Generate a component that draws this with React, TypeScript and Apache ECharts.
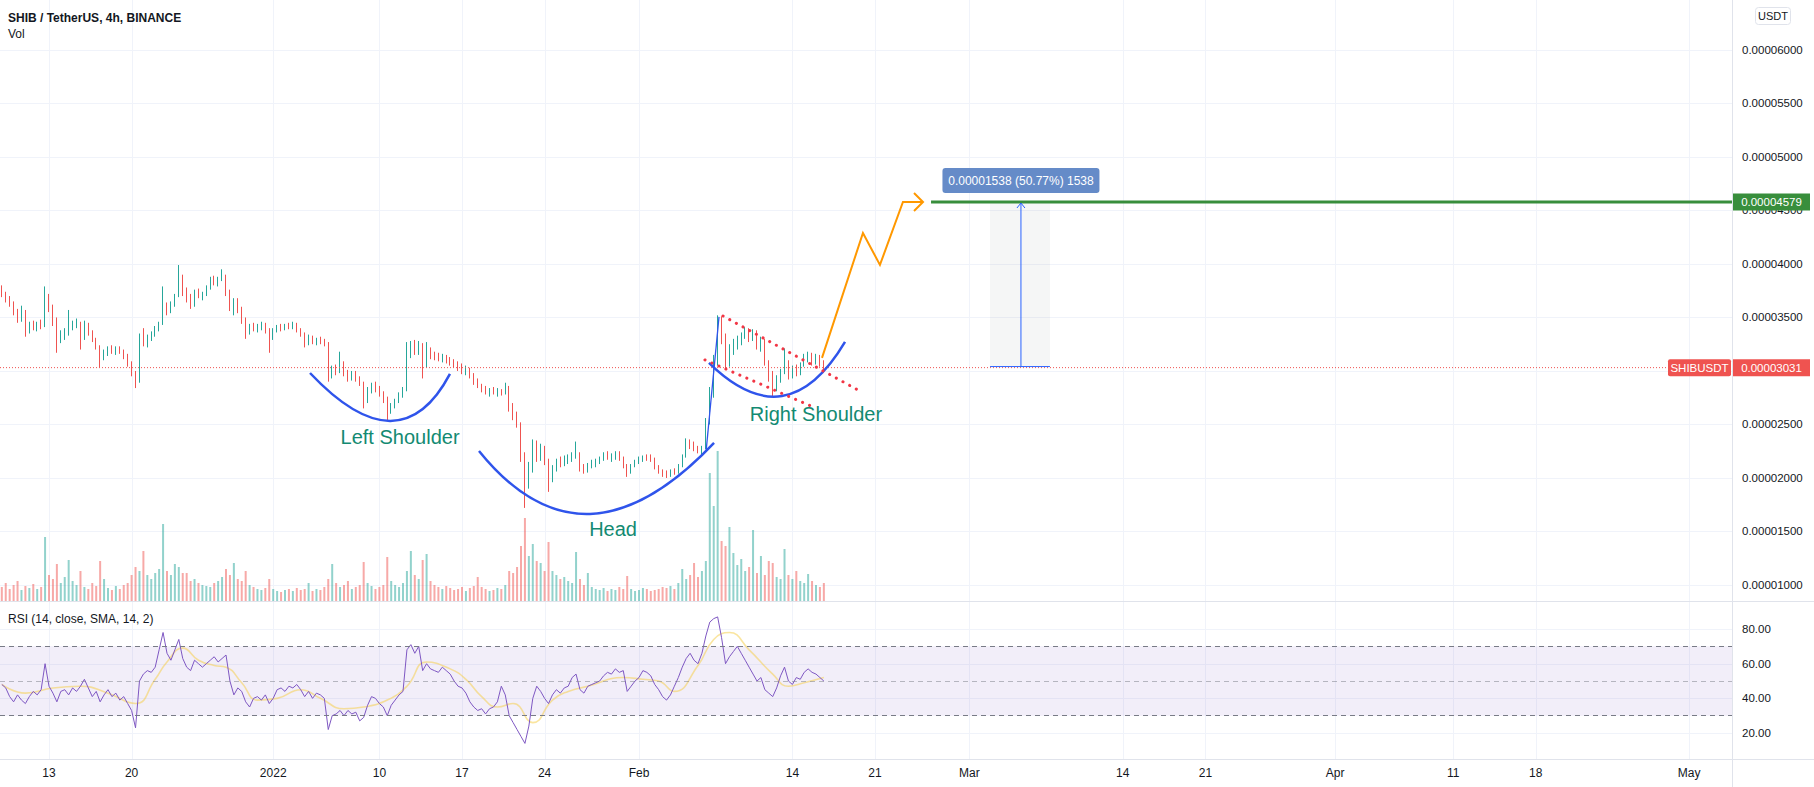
import React, { useEffect, useRef } from "react";
import * as echarts from "echarts";

// ---------------- data ----------------
// 8h candles starting on day -4 (Dec 9, 2021); day 0 = Dec 13, 2021. Prices in 1e-8 USDT.
const START_DAY = -4;
const STEP_DAYS = 1 / 3;

// [open, high, low, close]
const OHLC: number[][] = [
  [3760,3800,3690,3700],[3700,3740,3640,3660],[3660,3700,3600,3620],[3620,3650,3520,3540],[3540,3580,3450,3480],
  [3480,3610,3460,3560],[3560,3570,3320,3380],[3380,3460,3350,3430],[3430,3470,3380,3410],[3410,3460,3370,3440],
  [3440,3480,3390,3420],[3420,3790,3410,3700],[3700,3720,3550,3580],[3580,3620,3420,3460],[3460,3500,3170,3300],
  [3300,3380,3260,3340],[3340,3400,3290,3370],[3370,3570,3330,3420],[3420,3470,3380,3440],[3440,3490,3400,3450],
  [3450,3460,3200,3300],[3300,3470,3290,3430],[3430,3450,3330,3360],[3360,3380,3270,3290],[3290,3310,3200,3220],
  [3220,3240,3030,3120],[3120,3200,3100,3180],[3180,3230,3140,3210],[3210,3240,3160,3190],[3190,3230,3150,3200],
  [3200,3230,3160,3180],[3180,3200,3110,3140],[3140,3160,3040,3070],[3070,3090,2950,2970],[2970,3000,2840,2900],
  [2900,3350,2890,3280],[3280,3400,3230,3260],[3260,3340,3220,3310],[3310,3370,3280,3350],[3350,3420,3320,3400],
  [3400,3460,3370,3440],[3440,3790,3430,3600],[3600,3640,3520,3560],[3560,3650,3540,3620],[3620,3720,3600,3700],
  [3700,3990,3690,3880],[3880,3900,3700,3740],[3740,3780,3640,3680],[3680,3720,3580,3620],[3620,3760,3600,3720],
  [3720,3770,3680,3700],[3700,3740,3660,3720],[3720,3800,3700,3780],[3780,3880,3760,3850],[3850,3890,3800,3820],
  [3820,3880,3790,3860],[3860,3950,3840,3880],[3880,3900,3700,3720],[3720,3760,3560,3600],[3600,3680,3520,3640],
  [3640,3680,3540,3560],[3560,3600,3440,3470],[3470,3500,3300,3380],[3380,3440,3340,3410],[3410,3450,3370,3390],
  [3390,3440,3360,3420],[3420,3460,3380,3440],[3440,3450,3350,3370],[3370,3400,3170,3300],[3300,3400,3290,3380],
  [3380,3430,3360,3410],[3410,3440,3370,3400],[3400,3440,3380,3420],[3420,3450,3390,3410],[3410,3460,3390,3440],
  [3440,3450,3360,3380],[3380,3400,3320,3350],[3350,3360,3220,3260],[3260,3340,3240,3300],[3300,3330,3250,3280],
  [3280,3310,3240,3290],[3290,3320,3250,3270],[3270,3300,3230,3250],[3250,3270,2900,2960],[2960,3050,2930,3020],
  [3020,3060,2960,2990],[2990,3180,2980,3080],[3080,3090,2950,2970],[2970,3010,2900,2930],[2930,3000,2910,2980],
  [2980,3000,2900,2920],[2920,2950,2860,2880],[2880,2900,2650,2720],[2720,2850,2700,2820],[2820,2890,2790,2860],
  [2860,2900,2800,2840],[2840,2860,2760,2790],[2790,2810,2700,2740],[2740,2760,2540,2620],[2620,2700,2600,2680],
  [2680,2740,2650,2720],[2720,2800,2700,2770],[2770,2850,2750,2820],[2820,3270,2810,3200],[3200,3280,3120,3220],
  [3220,3290,3150,3180],[3180,3280,3150,3250],[3250,3260,2930,3050],[3050,3270,3030,3200],[3200,3220,3110,3150],
  [3150,3180,3100,3140],[3140,3170,3090,3120],[3120,3160,3080,3140],[3140,3150,3070,3100],[3100,3130,3050,3080],
  [3080,3110,3030,3060],[3060,3090,3000,3040],[3040,3070,2970,3000],[3000,3050,2960,3020],[3020,3030,2930,2960],
  [2960,2980,2870,2900],[2900,2930,2840,2860],[2860,2880,2800,2830],[2830,2860,2780,2800],[2800,2840,2760,2820],
  [2820,2850,2780,2790],[2790,2840,2760,2810],[2810,2830,2770,2790],[2790,2890,2780,2850],[2850,2860,2620,2660],
  [2660,2700,2540,2580],[2580,2620,2470,2500],[2500,2520,2150,2200],[2200,2240,1720,1950],[1950,2150,1900,2080],
  [2080,2360,2050,2300],[2300,2350,2150,2200],[2200,2320,2160,2280],[2280,2300,2120,2150],[2150,2180,1870,1990],
  [1990,2120,1960,2080],[2080,2180,2060,2150],[2150,2200,2100,2130],[2130,2210,2110,2170],[2170,2220,2130,2190],
  [2190,2240,2150,2200],[2200,2340,2180,2230],[2230,2240,2060,2090],[2090,2130,2040,2070],[2070,2140,2050,2120],
  [2120,2170,2090,2140],[2140,2180,2100,2160],[2160,2200,2130,2180],[2180,2240,2160,2210],[2210,2250,2170,2190],
  [2190,2230,2150,2200],[2200,2250,2170,2230],[2230,2250,2160,2180],[2180,2200,2090,2110],[2110,2130,2010,2050],
  [2050,2130,2040,2120],[2120,2170,2100,2150],[2150,2200,2130,2180],[2180,2210,2150,2200],[2200,2220,2160,2190],
  [2190,2220,2150,2170],[2170,2190,2080,2100],[2100,2120,2040,2060],[2060,2080,2010,2040],[2040,2070,2000,2030],
  [2030,2080,2010,2060],[2060,2090,2030,2050],[2050,2130,2040,2110],[2110,2220,2100,2200],[2200,2370,2190,2330],
  [2330,2360,2270,2300],[2300,2340,2250,2270],[2270,2300,2230,2250],[2250,2300,2220,2280],[2280,2560,2270,2520],
  [2520,2850,2500,2800],[2800,3150,2750,3080],[3080,3520,3050,3450],[3450,3510,3250,3300],[3300,3350,3020,3080],
  [3080,3250,3040,3200],[3200,3300,3150,3260],[3260,3330,3200,3290],[3290,3360,3240,3330],[3330,3410,3300,3380],
  [3380,3400,3270,3300],[3300,3390,3280,3360],[3360,3380,3200,3230],[3230,3320,3180,3280],[3280,3300,3050,3080],
  [3080,3100,2900,2940],[2940,3000,2760,2840],[2840,2960,2810,2920],[2920,3020,2890,2990],[2990,3210,2970,3060],
  [3060,3100,2920,2960],[2960,3050,2930,3020],[3020,3060,2950,2980],[2980,3080,2960,3060],[3060,3160,3040,3120],
  [3120,3180,3080,3140],[3140,3170,3050,3090],[3090,3160,3060,3130],[3130,3150,3040,3070],[3070,3100,3010,3031],
];

// volume (arbitrary units)
const VOLUME: number[] = [
  14,18,12,16,20,11,15,13,17,12, 14,64,26,22,37,18,24,41,20,16,
  30,14,12,18,15,40,22,13,11,15, 12,16,18,26,34,30,50,26,22,28,
  32,77,30,26,37,34,28,28,20,22, 18,16,15,14,18,20,24,32,26,38,
  22,20,30,16,14,12,11,13,22,12, 10,9,11,12,10,13,11,12,18,10,
  12,11,14,22,37,18,14,16,20,12, 14,16,39,18,15,12,14,16,44,20,
  16,14,18,30,50,26,22,41,47,20, 16,14,12,15,13,11,12,14,10,13,
  15,24,14,12,10,11,13,12,16,30, 28,34,55,83,45,57,40,38,30,59,
  30,26,22,24,20,18,49,22,16,28, 14,12,11,13,10,12,11,14,12,25,
  12,10,11,13,12,10,11,12,14,13, 15,12,18,32,22,26,38,24,30,40,
  128,95,150,60,55,74,48,36,42,30, 34,71,28,45,26,40,38,24,22,52,
  26,22,30,20,18,27,20,16,14,18,
];

const RSI: number[] = [
  48,46,41,38,42,39,37,41,44,42, 45,60,47,43,38,44,45,42,46,44,
  47,51,46,41,44,38,42,45,41,43, 39,41,37,33,23,50,54,56,55,58,
  68,78,66,62,68,74,63,58,56,62, 60,58,60,62,64,61,63,65,50,42,
  46,44,38,35,40,41,39,42,37,40, 45,46,44,47,46,48,45,41,44,40,
  43,42,40,22,30,31,33,30,33,31, 32,27,29,36,41,40,37,35,30,36,
  39,42,44,68,71,66,70,56,60,57, 56,55,58,56,54,50,47,46,43,38,
  35,33,34,31,34,35,38,47,42,30, 26,22,18,14,24,40,47,44,40,37,
  42,45,43,46,47,52,54,45,43,47, 48,49,50,53,55,54,57,55,56,44,
  47,50,52,56,55,53,48,45,41,39, 42,47,52,58,63,66,62,60,66,76,
  84,86,87,75,60,64,67,70,66,62, 58,54,50,52,45,43,41,46,53,58,
  50,48,52,51,55,57,55,54,52,50,
];

// RSI-based MA: [candle index, value]
const RSI_MA: number[][] = [
  [0,48],[6,43],[13,46],[20,47],[27,43],[34,37],[39,51],[42,61],[46,69],[50,62],[54,59],[57,58],
  [61,49],[65,39],[70,40],[76,45],[81,40],[87,34],[92,35],[98,39],[103,47],[108,61],[114,57],[118,51],
  [122,41],[126,35],[130,37],[135,26],[140,39],[144,44],[149,47],[158,52],[163,51],[167,50],[171,44],
  [177,59],[181,74],[185,78],[190,68],[196,54],[200,47],[204,49],[209,52],
];

const PRICE_TICKS = [1000,1500,2000,2500,3000,3500,4000,4500,5000,5500,6000];
const RSI_TICKS = [20,40,60,80];
const TICK_DAYS = [0,7,19,28,35,42,50,63,70,78,91,98,109,119,126,139];
const TICK_LABELS = ["13","20","2022","10","17","24","Feb","14","21","Mar","14","21","Apr","11","18","May"];

const LAST_PRICE = 3031;
const TARGET_PRICE = 4579;
const MEASURE_BASE = 3041;
const MEASURE_LABEL = "0.00001538 (50.77%) 1538";

// drawings, [day, price]
const LEFT_SHOULDER = [[22.12,2981],[28.90,2533],[33.98,2972]];
const HEAD = [[36.44,2252],[45.85,1664],[56.36,2327]];
const RIGHT_SHOULDER = [[55.93,3075],[62.12,2766],[67.46,3271]];
const ORANGE_PATH = [[65.51,3122],[68.98,4290],[70.42,3991],[72.37,4579],[74.07,4579]];
const WEDGE_UPPER = [[57.12,3514],[68.56,2822]];
const WEDGE_LOWER = [[55.59,3103],[64.75,2664]];
const BREAKOUT_LINE = [[55.68,2243],[56.78,3505]];
const TARGET_START_DAY = 74.75;
const MEASURE_DAYS = [79.75, 82.37, 84.83];
const PATTERN_LABELS: [string, number, number][] = [
  ["Left Shoulder", 29.75, 2383],
  ["Head", 47.8, 1523],
  ["Right Shoulder", 65.0, 2598],
];

// ---------------- layout ----------------
const W = 1814;
const H = 787;
const PLOT_W = 1732;
const FONT = "'Liberation Sans', Arial, sans-serif";
const TEXT = "#131722";
const UP = "#26a69a";
const DOWN = "#ef5350";

const dayOf = (i: number) => START_DAY + i * STEP_DAYS;
const fmtPrice = (v: number) => (v / 1e8).toFixed(8);

function buildOption(): any {
  const candles = OHLC.map((r, i) => [dayOf(i), r[0], r[3], r[2], r[1]]);
  const vols = VOLUME.map((v, i) => ({
    value: [dayOf(i), v],
    itemStyle: { color: OHLC[i][3] >= OHLC[i][0] ? "rgba(38,166,154,0.5)" : "rgba(239,83,80,0.5)" },
  }));
  const rsi = RSI.map((v, i) => [dayOf(i), v]);
  const rsiMa = RSI_MA.map((p) => [dayOf(p[0]), p[1]]);
  const axisCommon = {
    axisLine: { show: false },
    axisTick: { show: false },
    splitLine: { show: false },
  };
  return {
    animation: false,
    backgroundColor: "#ffffff",
    grid: [
      { left: 0, top: 0, width: PLOT_W, height: 601 },
      { left: 0, top: 602, width: PLOT_W, height: 157 },
    ],
    xAxis: [
      { type: "value", gridIndex: 0, min: -4.153, max: 142.63, ...axisCommon, axisLabel: { show: false } },
      {
        type: "value", gridIndex: 1, min: -4.153, max: 142.63, ...axisCommon,
        axisLabel: {
          customValues: TICK_DAYS,
          formatter: (v: number) => {
            const k = TICK_DAYS.findIndex((d) => Math.abs(d - v) < 1e-6);
            return k >= 0 ? TICK_LABELS[k] : "";
          },
          margin: 8, color: TEXT, fontSize: 12, fontFamily: FONT,
        },
      },
    ],
    yAxis: [
      {
        type: "value", gridIndex: 0, position: "right", min: 850, max: 6467, ...axisCommon,
        axisLabel: { customValues: PRICE_TICKS, formatter: fmtPrice, margin: 10, color: TEXT, fontSize: 11.5, fontFamily: FONT },
      },
      {
        type: "value", gridIndex: 1, position: "right", min: 5, max: 95.6, ...axisCommon,
        axisLabel: { customValues: RSI_TICKS, formatter: (v: number) => v.toFixed(2), margin: 10, color: TEXT, fontSize: 11.5, fontFamily: FONT },
      },
      { type: "value", gridIndex: 0, min: 0, max: 601, show: false, ...axisCommon },
    ],
    series: [
      {
        type: "candlestick", xAxisIndex: 0, yAxisIndex: 0, z: 4,
        dimensions: ["day", "open", "close", "low", "high"],
        encode: { x: "day", y: ["open", "close", "low", "high"] },
        data: candles, barWidth: 1,
        itemStyle: { color: UP, color0: DOWN, borderColor: UP, borderColor0: DOWN, borderWidth: 1 },
      },
      { type: "bar", xAxisIndex: 0, yAxisIndex: 2, z: 2, data: vols, barWidth: 2 },
      {
        type: "line", xAxisIndex: 1, yAxisIndex: 1, z: 4, data: rsi, symbol: "none",
        lineStyle: { color: "#7e57c2", width: 1 },
        markArea: { silent: true, itemStyle: { color: "rgba(126,87,194,0.1)" }, data: [[{ yAxis: 30 }, { yAxis: 70 }]] },
        markLine: {
          silent: true, symbol: ["none", "none"], label: { show: false },
          lineStyle: { color: "#787b86", type: [5, 4], width: 1 },
          data: [{ yAxis: 70 }, { yAxis: 50, lineStyle: { color: "rgba(120,123,134,0.5)", type: [5, 4], width: 1 } }, { yAxis: 30 }],
        },
      },
      {
        type: "line", xAxisIndex: 1, yAxisIndex: 1, z: 3, data: rsiMa, symbol: "none", smooth: 0.5,
        lineStyle: { color: "rgba(245,208,80,0.55)", width: 1.6 },
      },
    ],
  };
}

function buildGraphic(chart: any): any[] {
  const P = (d: number, v: number): number[] => chart.convertToPixel({ seriesIndex: 0 }, [d, v]);
  const R = (d: number, v: number): number[] => chart.convertToPixel({ seriesIndex: 2 }, [d, v]);
  const g: any[] = [];
  const line = (x1: number, y1: number, x2: number, y2: number, style: any, z = 1) =>
    g.push({ type: "line", silent: true, z, shape: { x1, y1, x2, y2 }, style });
  const text = (x: number, y: number, s: string, font: string, fill: string, align = "left", z = 20) =>
    g.push({
      type: "text", silent: true, z, x, y,
      style: { text: s, font, fill, align, verticalAlign: "middle", textAlign: align, textVerticalAlign: "middle" },
    });
  const grid = { stroke: "#f0f3fa", lineWidth: 1 };

  // grid lines
  TICK_DAYS.forEach((d) => {
    const x = Math.round(P(d, 2000)[0]) + 0.5;
    line(x, 0, x, 759, grid, 0);
  });
  PRICE_TICKS.forEach((v) => {
    const y = Math.round(P(0, v)[1]) + 0.5;
    line(0, y, PLOT_W, y, grid, 0);
  });
  RSI_TICKS.forEach((v) => {
    const y = Math.round(R(0, v)[1]) + 0.5;
    line(0, y, PLOT_W, y, grid, 0);
  });
  // pane separators / axis border
  const sep = { stroke: "#e0e3eb", lineWidth: 1 };
  line(0, 601.5, W, 601.5, sep, 10);
  line(0, 759.5, W, 759.5, sep, 10);
  line(PLOT_W + 0.5, 0, PLOT_W + 0.5, H, sep, 10);

  // last price dotted line
  const yLast = P(0, LAST_PRICE)[1];
  line(0, yLast, 1668, yLast, { stroke: DOWN, lineWidth: 1, lineDash: [1, 2] }, 5);

  // measurement box
  const yT = P(0, TARGET_PRICE)[1];
  const yB = P(0, MEASURE_BASE)[1];
  const xm0 = P(MEASURE_DAYS[0], 0)[0];
  const xa = P(MEASURE_DAYS[1], 0)[0];
  const xm1 = P(MEASURE_DAYS[2], 0)[0];
  g.push({ type: "rect", silent: true, z: 1, shape: { x: xm0, y: yT, width: xm1 - xm0, height: yB - yT }, style: { fill: "rgba(120,123,134,0.07)" } });
  line(xa, yB, xa, yT + 1, { stroke: "#2962ff", lineWidth: 1 }, 12);
  line(xm0, yB, xm1, yB, { stroke: "#2962ff", lineWidth: 1 }, 12);
  g.push({ type: "polyline", silent: true, z: 12, shape: { points: [[xa - 4, yT + 6], [xa, yT + 1], [xa + 4, yT + 6]] }, style: { stroke: "#2962ff", lineWidth: 1, fill: "none" } });

  // target line
  const xt = P(TARGET_START_DAY, 0)[0];
  line(xt, yT, PLOT_W, yT, { stroke: "#388e3c", lineWidth: 3 }, 11);

  g.push({ type: "rect", silent: true, z: 14, shape: { x: xa - 78.5, y: yT - 34, width: 157, height: 25, r: 3 }, style: { fill: "#658bc8" } });
  text(xa, yT - 21.5, MEASURE_LABEL, `12px ${FONT}`, "#ffffff", "center", 15);

  // arcs
  const arc = (pts: number[][]) => {
    const [a, b, c] = pts.map((p) => P(p[0], p[1]));
    const cpx = 2 * b[0] - (a[0] + c[0]) / 2;
    const cpy = 2 * b[1] - (a[1] + c[1]) / 2;
    g.push({
      type: "bezierCurve", silent: true, z: 12,
      shape: { x1: a[0], y1: a[1], x2: c[0], y2: c[1], cpx1: cpx, cpy1: cpy },
      style: { stroke: "#2f54eb", lineWidth: 2.5, fill: "none" },
    });
  };
  arc(LEFT_SHOULDER);
  arc(HEAD);
  arc(RIGHT_SHOULDER);

  // breakout line
  const b0 = P(BREAKOUT_LINE[0][0], BREAKOUT_LINE[0][1]);
  const b1 = P(BREAKOUT_LINE[1][0], BREAKOUT_LINE[1][1]);
  line(b0[0], b0[1], b1[0], b1[1], { stroke: "#2f54eb", lineWidth: 1.3 }, 12);

  // wedge dotted lines
  const dots = { stroke: "#f23645", lineWidth: 3, lineDash: [0.1, 7.5], lineCap: "round" };
  [WEDGE_UPPER, WEDGE_LOWER].forEach((w) => {
    const p0 = P(w[0][0], w[0][1]);
    const p1 = P(w[1][0], w[1][1]);
    line(p0[0], p0[1], p1[0], p1[1], dots, 13);
  });

  // orange projection
  const op = ORANGE_PATH.map((p) => P(p[0], p[1]));
  g.push({ type: "polyline", silent: true, z: 13, shape: { points: op }, style: { stroke: "#ff9800", lineWidth: 2, fill: "none" } });
  const tip = op[op.length - 1];
  g.push({ type: "polyline", silent: true, z: 13, shape: { points: [[tip[0] - 9, tip[1] - 9], tip, [tip[0] - 9, tip[1] + 9]] }, style: { stroke: "#ff9800", lineWidth: 2, fill: "none" } });

  // pattern labels
  PATTERN_LABELS.forEach(([s, d, v]) => {
    const p = P(d, v);
    text(p[0], p[1], s, `20px ${FONT}`, "#138a72", "center", 15);
  });

  // header texts
  text(8, 17.5, "SHIB / TetherUS, 4h, BINANCE", `bold 12px ${FONT}`, TEXT);
  text(8, 33.5, "Vol", `12px ${FONT}`, TEXT);
  text(8, 619, "RSI (14, close, SMA, 14, 2)", `12px ${FONT}`, TEXT);

  // USDT box
  g.push({ type: "rect", silent: true, z: 20, shape: { x: 1755.5, y: 7.5, width: 35, height: 17, r: 3 }, style: { fill: "#ffffff", stroke: "#e0e3eb", lineWidth: 1 } });
  text(1773, 16, "USDT", `11px ${FONT}`, TEXT, "center", 21);

  // price badges
  g.push({ type: "rect", silent: true, z: 20, shape: { x: 1733, y: yT - 8.5, width: 77, height: 17 }, style: { fill: "#388e3c" } });
  text(1771.5, yT, fmtPrice(TARGET_PRICE), `11.5px ${FONT}`, "#ffffff", "center", 21);
  g.push({ type: "rect", silent: true, z: 20, shape: { x: 1668, y: yLast - 8.5, width: 63, height: 17, r: 2 }, style: { fill: DOWN } });
  text(1699.5, yLast, "SHIBUSDT", `11.5px ${FONT}`, "#ffffff", "center", 21);
  g.push({ type: "rect", silent: true, z: 20, shape: { x: 1733, y: yLast - 8.5, width: 77, height: 17 }, style: { fill: DOWN } });
  text(1771.5, yLast, fmtPrice(LAST_PRICE), `11.5px ${FONT}`, "#ffffff", "center", 21);

  return g;
}

export default function App() {
  const ref = useRef<HTMLDivElement>(null);
  useEffect(() => {
    document.body.style.margin = "0";
    if (!ref.current) return;
    const chart = echarts.init(ref.current, null, { renderer: "svg" });
    chart.setOption(buildOption());
    chart.setOption({ graphic: buildGraphic(chart) });
    return () => chart.dispose();
  }, []);
  return <div ref={ref} style={{ position: "absolute", left: 0, top: 0, width: W, height: H, background: "#fff" }} />;
}
